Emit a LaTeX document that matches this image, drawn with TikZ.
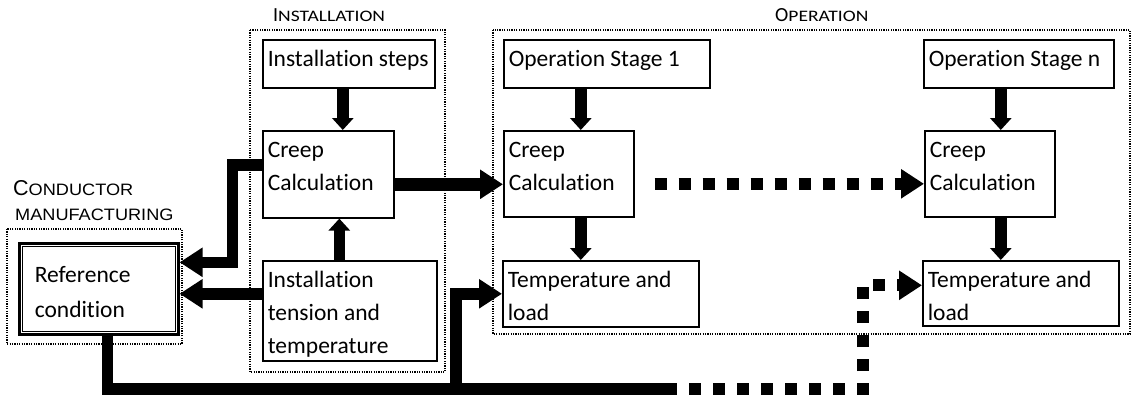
\documentclass[tikz,border=0pt]{standalone}
\usepackage{fontspec}
\usepackage{graphicx}
\setmainfont{Carlito}[Ligatures=NoCommon]
\newfontfamily\arialfont{Liberation Sans}
\usetikzlibrary{arrows.meta,calc}

\tikzset{
  frame/.style={draw, line width=1.2pt, dash pattern=on 1.2pt off 1.2pt},
  stagebox/.style={draw, line width=1.6pt, inner xsep=5pt, inner ysep=0pt,
    anchor=north west, font=\fontsize{23.5pt}{33pt}\selectfont},
  refbox/.style={draw, line width=2.6pt, inner xsep=15.5pt, inner ysep=0pt,
    anchor=north west, font=\fontsize{23.5pt}{33pt}\selectfont},
  flow/.style={line width=11.5pt, line join=miter},
  bighead/.style={-{Triangle[length=23pt,width=28pt]}},
  smallhead/.style={-{Triangle[length=12pt,width=21pt]}},
  dotflow/.style={line width=12pt, dash pattern=on 12pt off 12pt},
  caption/.style={anchor=base west, inner sep=0pt},
}
% text block hanging from the top of a box: first baseline 27pt below the top
\newcommand\boxlines[3]{\parbox[c][#2][t]{#1}{\raggedright\rule{0pt}{27pt}#3}}

\begin{document}
\begin{tikzpicture}[x=1pt,y=-1pt]
\useasboundingbox (0,0) rectangle (1132,399);

% grouping frames
\draw[frame] (7,229) rectangle (182,344);
\draw[frame] (250,30) rectangle (445,372);
\draw[frame] (493,30) rectangle (1130,334);

% group captions
\node[caption] (lblinst) at (273,21)
  {\fontsize{20pt}{20pt}\selectfont I\scalebox{1.22}[1]{\fontsize{16pt}{16pt}\selectfont NSTALLATION}};
\node[caption] (lblop) at (775,21)
  {\fontsize{20pt}{20pt}\selectfont O\scalebox{1.22}[1]{\fontsize{16pt}{16pt}\selectfont PERATION}};
\node[caption, font=\arialfont] (lblcond) at (13,195)
  {\fontsize{21.5pt}{22pt}\selectfont C\scalebox{1.1}[1]{\fontsize{16.5pt}{17pt}\selectfont ONDUCTOR}};
\node[caption, font=\arialfont] (lblmanu) at (15,220)
  {\scalebox{1.1}[1]{\fontsize{16.5pt}{17pt}\selectfont MANUFACTURING}};

% reference condition (thick-thin border)
\node[refbox] (ref) at (18,242)
  {\parbox[c][91pt][t]{128pt}{\raggedright\rule{0pt}{39pt}Reference\\[2pt]condition}};
\draw[line width=1.1pt] ($(ref.north west)+(4.5,4.5)$) rectangle ($(ref.south east)+(-4.5,-4.5)$);

% installation stage
\node[stagebox] (steps) at (262,39) {\boxlines{162pt}{48pt}{Installation steps}};
\node[stagebox] (cci) at (262,130) {\boxlines{121pt}{87pt}{Creep\\Calculation}};
\node[stagebox] (itt) at (262,260) {\boxlines{164pt}{100pt}{Installation\\tension and\\temperature}};

% operation stage 1
\node[stagebox] (os1) at (503,39) {\boxlines{196pt}{48pt}{Operation Stage 1}};
\node[stagebox] (c1) at (503,130) {\boxlines{120pt}{86pt}{Creep\\Calculation}};
\node[stagebox] (t1) at (502,260) {\boxlines{186pt}{66pt}{Temperature and\\load}};

% operation stage n
\node[stagebox] (osn) at (923,39) {\boxlines{180pt}{48pt}{Operation Stage n}};
\node[stagebox] (cn) at (924,130) {\boxlines{120pt}{86pt}{Creep\\Calculation}};
\node[stagebox] (tn) at (922,260) {\boxlines{186pt}{65pt}{Temperature and\\load}};

% vertical links inside the stages
\draw[flow,smallhead] ([xshift=-6pt]steps.south) -- ([xshift=-6pt]steps.south |- cci.north);
\draw[flow,smallhead] ([xshift=-10.5pt]itt.north) -- ([xshift=-10.5pt]itt.north |- cci.south);
\draw[flow,smallhead] ([xshift=-26pt]os1.south) -- ([xshift=-26pt]os1.south |- c1.north);
\draw[flow,smallhead] ([xshift=12pt]c1.south) -- ([xshift=12pt]c1.south |- t1.north);
\draw[flow,smallhead] ([xshift=-18pt]osn.south) -- ([xshift=-18pt]osn.south |- cn.north);
\draw[flow,smallhead] ([xshift=11pt]cn.south) -- ([xshift=11pt]cn.south |- tn.north);

% creep results passed on
\draw[flow,line width=13pt,bighead] ([yshift=-10pt]cci.east) -- ([yshift=-10pt]cci.east -| c1.west);
\draw[dotflow,bighead,shorten <=8pt,dash phase=12pt] ([yshift=-10pt]c1.east) -- ([yshift=-10pt]c1.east -| cn.west);

% feedback to the reference condition
\draw[flow,bighead] ([yshift=9.5pt]cci.west) -- ++(-29.5,0) |- ([yshift=26.5pt]ref.east);
\draw[flow,bighead] ([yshift=17pt]itt.west) -- ([yshift=17pt]itt.west -| ref.east);

% reference condition carried to the operation stages
\coordinate (split) at (456,389);
\coordinate (fade) at (665,389);
\coordinate (rise) at (863,389);
\draw[flow,bighead] ([xshift=8.5pt]ref.south) |- (split) |- (t1.west);
\draw[flow] (split) -- (fade);
\draw[dotflow,bighead] (fade) -- (rise) |- ([yshift=8pt]tn.west);
\end{tikzpicture}
\end{document}
